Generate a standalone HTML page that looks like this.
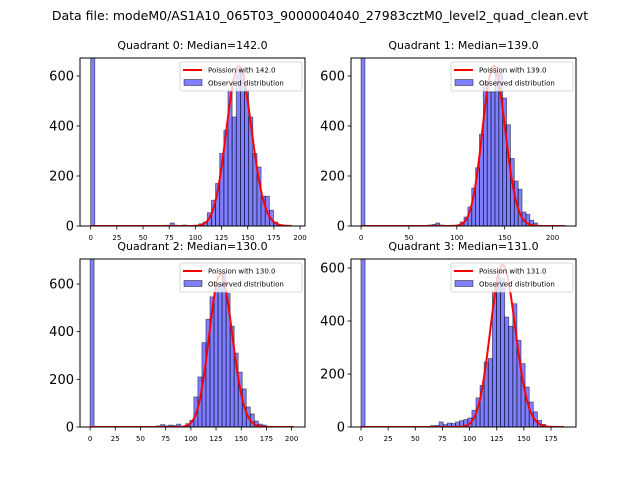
<!DOCTYPE html>
<html><head><meta charset="utf-8"><style>
body{margin:0;background:#fff;}
svg{display:block;font-family:"DejaVu Sans","Liberation Sans",sans-serif;}
</style></head><body>
<svg id="fig" width="640" height="480" viewBox="0 0 640 480">
<rect width="640" height="480" fill="#fff"/>
<text x="320" y="20" font-size="12.5" text-anchor="middle">Data file: modeM0/AS1A10_065T03_9000004040_27983cztM0_level2_quad_clean.evt</text>
</svg>
<script>
// Per-quadrant data
const quadNames = ["Quadrant 0","Quadrant 1","Quadrant 2","Quadrant 3"];
const medians = [142.0, 139.0, 130.0, 131.0];
const zeroCounts = [1500, 1500, 1500, 1500];
const binStarts = [103.5, 103.5, 95.0, 68.2];
const binWidths = [3.95, 4.04, 4.0, 3.77];
const counts0 = [9,16,53,103,170,290,383,545,436,625,625,545,436,290,236,119,119,63,16,5];
const counts1 = [16,36,76,152,233,367,572,536,536,612,612,512,405,270,180,147,56,47,23,12];
const counts2 = [14,28,126,210,354,452,546,578,600,648,560,423,310,230,160,84,55,25,12,8];
const counts3 = [6,19,9,15,13,19,24,28,34,63,110,157,245,258,516,566,560,415,380,465,327,239,151,94,57,25,10];
const smallCounts0 = [3,12,3,2,4];
const smallCounts1 = [4,6,12,4];
const smallCounts2 = [5,10,5,8,6,12];
const smallCounts3 = [5];
const smallBinStarts = [72, 70, 66, 64];
const curvePeaks = [640, 640, 640, 612];
const curveMax = [192, 213, 202, 187];
const yLimits = [672, 672, 705, 634];
const xLimits = [[-10.2,204.7],[-10.5,224.5],[-10,213.3],[-9.2,198]];
const xTicks = [[0,25,50,75,100,125,150,175,200],[0,50,100,150,200],[0,25,50,75,100,125,150,175,200],[0,25,50,75,100,125,150,175]];
const yTicks = [0,200,400,600];

const allCounts=[counts0,counts1,counts2,counts3];
const allSmall=[smallCounts0,smallCounts1,smallCounts2,smallCounts3];
const boxes=[[80,58,305,226],[351,58,576,226],[80,259,305,427],[351,259,576,427]];
const NS="http://www.w3.org/2000/svg";
const svg=document.getElementById('fig');
function mk(tag,attrs,parent){const e=document.createElementNS(NS,tag);for(const k in attrs)e.setAttribute(k,attrs[k]);(parent||svg).appendChild(e);return e;}
function lgamma(n){let s=0;for(let i=2;i<=n;i++)s+=Math.log(i);return s;}

for(let q=0;q<4;q++){
  const [x0,y0,x1,y1]=boxes[q];
  const [xa,xb]=xLimits[q];
  const X=v=>x0+(v-xa)/(xb-xa)*(x1-x0);
  const Y=v=>y1-v/yLimits[q]*(y1-y0);
  const g=mk('g',{});
  
  
  const cid='clip'+q;
  const cp=mk('clipPath',{id:cid},g);mk('rect',{x:x0,y:y0,width:x1-x0,height:y1-y0},cp);
  const plot=mk('g',{'clip-path':'url(#'+cid+')'},g);
  const w=binWidths[q];
  const bar=(v,c,name)=>{const r=mk('rect',{x:X(v),y:Y(c),width:X(v+w)-X(v),height:Math.max(0,Y(0)-Y(c)),fill:'rgba(0,0,255,0.5)',stroke:'rgba(0,0,0,0.55)','stroke-width':0.8},plot);
    
    };
  bar(0,zeroCounts[q],'bar-zero');
  allSmall[q].forEach((c,i)=>{if(c>0)bar(smallBinStarts[q]+i*w,c,'bar-low');});
  allCounts[q].forEach((c,i)=>{if(c>0)bar(binStarts[q]+i*w,c,'bar');});
  const lam=medians[q];const lpk=lam*Math.log(lam)-lam-lgamma(Math.round(lam));
  let d='';
  for(let k=0;k<=curveMax[q];k++){const lp=k*Math.log(lam||1)-lam-lgamma(k);const v=curvePeaks[q]*Math.exp(lp-lpk);d+=(k?'L':'M')+X(k).toFixed(2)+','+Y(v).toFixed(2);}
  const pth=mk('path',{d:d,fill:'none',stroke:'#ff0000','stroke-width':2},plot);
  
  
  mk('rect',{x:x0,y:y0,width:x1-x0,height:y1-y0,fill:'none',stroke:'#000','stroke-width':1},g);
  xTicks[q].forEach(t=>{const x=X(t);mk('line',{x1:x,y1:y1,x2:x,y2:y1+3.5,stroke:'#000','stroke-width':0.8},g);
    const tx=mk('text',{x:x,y:y1+14,'font-size':7,'text-anchor':'middle'},g);tx.textContent=t;
    
    });
  yTicks.forEach(t=>{const y=Y(t);mk('line',{x1:x0-3.5,y1:y,x2:x0,y2:y,stroke:'#000','stroke-width':0.8},g);
    const tx=mk('text',{x:x0-6,y:y+4.5,'font-size':13,'text-anchor':'end'},g);tx.textContent=t;
    
    });
  const tt=mk('text',{x:(x0+x1)/2,y:y0-9,'font-size':11,'text-anchor':'middle'},g);
  tt.textContent=quadNames[q]+': Median='+medians[q].toFixed(1);
  
  
  const lg=mk('g',{},g);
  
  
  const lx=x1-125,ly=y0+4;
  mk('rect',{x:lx,y:ly,width:122,height:29,fill:'rgba(255,255,255,0.8)',stroke:'#ccc','stroke-width':0.8,rx:2},lg);
  mk('line',{x1:lx+3,y1:ly+8,x2:lx+22,y2:ly+8,stroke:'#ff0000','stroke-width':2},lg);
  const t1=mk('text',{x:lx+28,y:ly+10.5,'font-size':7},lg);t1.textContent='Poission with '+medians[q].toFixed(1);
  mk('rect',{x:lx+4,y:ly+17.5,width:18,height:6,fill:'rgba(0,0,255,0.5)',stroke:'rgba(0,0,0,0.55)','stroke-width':0.8},lg);
  const t2=mk('text',{x:lx+28,y:ly+23.5,'font-size':7},lg);t2.textContent='Observed distribution';
}
</script>
</body></html>
